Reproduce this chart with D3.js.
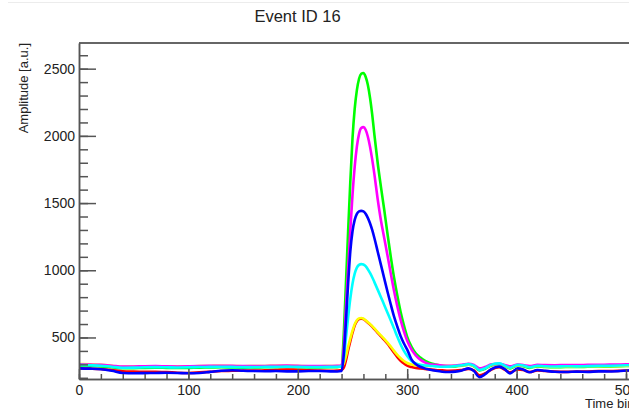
<!DOCTYPE html>
<html>
<head>
<meta charset="utf-8">
<script src="https://cdn.jsdelivr.net/npm/d3@7"></script>
<style>
  body { margin: 0; background: #fff; }
  text { font-family: "Liberation Sans", Arial, sans-serif; }
</style>
</head>
<body>
<div id="event_svg"></div>
<script>

// Time bins where the waveforms were read
const timeBins = [0, 10, 20, 30, 40, 50, 60, 70, 80, 90, 100, 110, 120, 130, 140, 150, 160, 170, 180, 190, 200, 210, 220, 230,
  236, 240,
  242, 244, 246, 248, 250, 252, 254, 256, 258, 260, 262, 264, 266, 268, 270,
  273, 276, 279, 282, 285, 288, 291, 294, 297, 300,
  304, 308, 312, 316, 320,
  326, 332, 338, 344, 350,
  356, 361, 366, 371, 377, 384, 389, 394, 401, 406, 412, 419, 426,
  435, 445, 455, 465, 475, 485, 495, 505, 515,
  520];

// Amplitude of each channel
const greenAmp = [290, 288, 285, 278, 271, 272, 274, 275, 274, 273, 274, 276, 277, 278, 277, 276, 277, 278, 279, 280, 278, 277, 277, 278,
  279, 290,
  520, 900, 1290, 1660, 1980, 2200, 2340, 2425, 2462, 2468, 2440, 2380, 2285, 2160, 2010,
  1800, 1620, 1450, 1270, 1100, 945, 810, 690, 590, 505,
  430, 380, 350, 328, 312,
  298, 288, 284, 285, 289,
  297, 286, 255, 266, 292, 301, 287, 270, 292, 287, 274, 285, 281,
  279, 280, 280, 282, 284, 285, 287, 289, 291,
  292];

const redAmp = [270, 268, 265, 258, 248, 246, 245, 244, 242, 238, 236, 240, 245, 250, 252, 254, 253, 255, 257, 262, 260, 255, 253, 252,
  254, 258,
  275, 330, 405, 472, 535, 588, 620, 636, 640, 636, 625, 610, 596, 580, 562,
  535, 508, 482, 453, 420, 386, 354, 327, 306, 291,
  280, 273, 269, 266, 263,
  258, 255, 252, 253, 258,
  265, 255, 218, 232, 262, 278, 262, 240, 262, 258, 243, 255, 250,
  246, 244, 246, 247, 250, 250, 252, 255, 258,
  260];

const yellowAmp = [302, 300, 297, 289, 282, 283, 285, 286, 285, 284, 285, 287, 288, 289, 288, 286, 287, 288, 289, 290, 288, 286, 286, 287,
  287, 287,
  305, 360, 430, 492, 550, 598, 628, 642, 645, 640, 628, 614, 600, 585, 567,
  540, 515, 490, 462, 432, 400, 370, 345, 325, 310,
  298, 292, 290, 289, 289,
  290, 289, 288, 290, 293,
  298, 288, 262, 272, 295, 303, 290, 276, 294, 290, 280, 288, 285,
  283, 284, 285, 286, 287, 288, 289, 290, 291,
  292];

const magentaAmp = [300, 298, 296, 290, 283, 284, 286, 287, 285, 284, 285, 287, 289, 290, 289, 287, 287, 288, 290, 291, 289, 287, 287, 288,
  289, 292,
  420, 720, 1010, 1300, 1560, 1770, 1920, 2015, 2058, 2065, 2045, 1995, 1920, 1825, 1715,
  1530, 1370, 1240, 1110, 975, 845, 730, 630, 545, 475,
  410, 365, 335, 315, 303,
  296, 292, 290, 292, 296,
  304, 295, 270, 280, 300, 305, 296, 285, 299, 295, 288, 296, 294,
  293, 295, 294, 296, 297, 298, 299, 300, 301,
  302];

const cyanAmp = [295, 293, 290, 282, 275, 276, 278, 279, 278, 277, 278, 280, 281, 282, 281, 279, 280, 281, 282, 283, 281, 280, 280, 281,
  282, 285,
  340, 495, 650, 790, 900, 975, 1020, 1040, 1046, 1043, 1030, 1008, 980, 948, 912,
  856, 800, 742, 684, 626, 566, 505, 448, 400, 362,
  325, 306, 296, 292, 290,
  285, 282, 283, 288, 293,
  302, 290, 258, 270, 298, 307, 292, 275, 297, 292, 278, 290, 286,
  284, 286, 285, 287, 289, 290, 292, 294, 296,
  297];

const blueAmp = [270, 268, 264, 252, 236, 234, 235, 236, 237, 236, 234, 236, 244, 252, 256, 252, 250, 249, 250, 248, 248, 250, 250, 248,
  247, 250,
  370, 620, 900, 1140, 1290, 1375, 1420, 1438, 1442, 1438, 1420, 1390, 1350, 1300, 1240,
  1140, 1040, 940, 840, 745, 655, 580, 510, 455, 410,
  335, 300, 282, 270, 262,
  252, 245, 243, 246, 255,
  270, 250, 205, 225, 265, 283, 265, 233, 270, 262, 241, 258, 252,
  245, 243, 246, 244, 248, 247, 250, 256, 262,
  265];

const channelNames = ["green", "red", "yellow", "magenta", "cyan", "blue"];
const channelColors = ["#00ff00", "#ff0000", "#ffff00", "#ff00ff", "#00ffff", "#0000ff"];
const channelData = [greenAmp, redAmp, yellowAmp, magentaAmp, cyanAmp, blueAmp];

const xMajorTicks = [0, 100, 200, 300, 400, 500];
const yMajorTicks = [500, 1000, 1500, 2000, 2500];

// Set dimensions and margins
const W = 629, H = 415;
const margin = {top: 43, left: 79, bottom: 36};

const svg = d3.select("#event_svg")
  .append("svg")
    .attr("width", W)
    .attr("height", H)
    .style("display", "block");

svg.append("rect")
  .attr("width", W)
  .attr("height", H)
  .attr("fill", "#fff");

// faint edge of the canvas
svg.append("line")
  .attr("x1", 8).attr("x2", W)
  .attr("y1", 2.5).attr("y2", 2.5)
  .attr("stroke", "#ececec");

// Scales: the frame runs on past the right edge of the picture
const xScale = d3.scaleLinear()
  .domain([0, 520])
  .range([margin.left, margin.left + 520 * 1.094]);

const yScale = d3.scaleLinear()
  .domain([191, 2691])
  .range([H - margin.bottom, margin.top]);

svg.append("clipPath").attr("id", "frameclip")
  .append("rect")
    .attr("x", margin.left)
    .attr("y", margin.top)
    .attr("width", xScale(520) - margin.left)
    .attr("height", yScale(191) - margin.top);

// Draw the waveforms
const line = d3.line()
  .x(function(d, i) { return xScale(timeBins[i]); })
  .y(function(d) { return yScale(d); })
  .curve(d3.curveMonotoneX);

svg.append("g")
  .attr("clip-path", "url(#frameclip)")
  .selectAll("path")
  .data(channelData)
  .enter()
  .append("path")
    .attr("d", line)
    .attr("fill", "none")
    .attr("stroke", function(d, i) { return channelColors[i]; })
    .attr("stroke-width", 2.6)
    .attr("stroke-linejoin", "round");

// Frame top line
svg.append("line")
  .attr("x1", margin.left).attr("x2", xScale(520))
  .attr("y1", margin.top).attr("y2", margin.top)
  .attr("stroke", "#666")
  .attr("stroke-width", 1.8);

const axisColor = "#555";

// x-axis: minor ticks every 20, major every 100
svg.append("g")
  .attr("transform", `translate(0, ${yScale(191)})`)
  .call(d3.axisBottom(xScale)
    .tickValues(d3.range(0, 521, 20))
    .tickSize(-5)
    .tickSizeOuter(0)
    .tickFormat(""));

svg.append("g")
  .attr("transform", `translate(0, ${yScale(191)})`)
  .call(d3.axisBottom(xScale)
    .tickValues(xMajorTicks)
    .tickSize(-10)
    .tickSizeOuter(0)
    .tickPadding(6)
    .tickFormat(d3.format("d")));

// y-axis: minor ticks every 100, major every 500
svg.append("g")
  .attr("transform", `translate(${margin.left}, 0)`)
  .call(d3.axisLeft(yScale)
    .tickValues(d3.range(200, 2700, 100))
    .tickSize(-9)
    .tickSizeOuter(0)
    .tickFormat(""));

svg.append("g")
  .attr("transform", `translate(${margin.left}, 0)`)
  .call(d3.axisLeft(yScale)
    .tickValues(yMajorTicks)
    .tickSize(-17)
    .tickSizeOuter(0)
    .tickPadding(4)
    .tickFormat(d3.format("d")));

svg.selectAll(".domain, .tick line")
  .attr("stroke", axisColor)
  .attr("stroke-width", 1.5);

svg.selectAll(".tick text")
  .attr("fill", "#222")
  .style("font-size", "14px")
  .style("font-family", "'Liberation Sans', Arial, sans-serif");

// Titles
svg.append("text")
  .attr("x", 297.5)
  .attr("y", 22)
  .attr("text-anchor", "middle")
  .attr("fill", "#222")
  .style("font-size", "16.5px")
  .text("Event ID 16");

svg.append("text")
  .attr("transform", `translate(28, ${margin.top}) rotate(-90)`)
  .attr("text-anchor", "end")
  .attr("fill", "#222")
  .style("font-size", "13px")
  .text("Amplitude [a.u.]");

svg.append("text")
  .attr("x", 585)
  .attr("y", 408)
  .attr("fill", "#222")
  .style("font-size", "13px")
  .text("Time bin");

</script>
</body>
</html>
